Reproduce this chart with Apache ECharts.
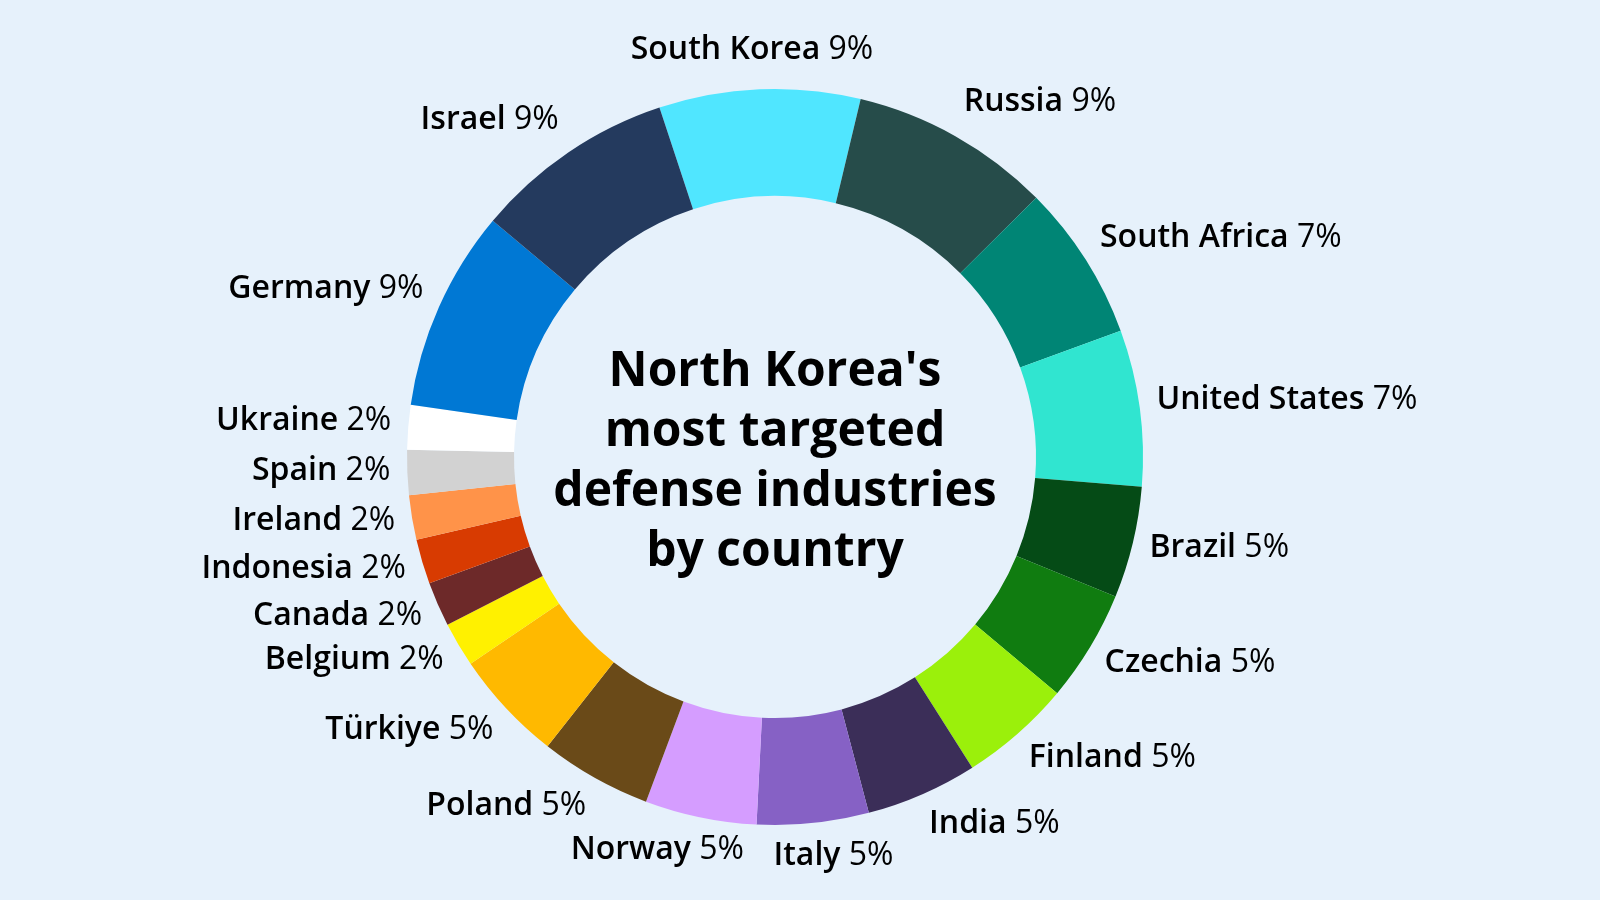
<!DOCTYPE html>
<html>
<head>
<meta charset="utf-8">
<script src="https://cdn.jsdelivr.net/npm/echarts@6/dist/echarts.min.js"></script>
<style>
html,body{margin:0;padding:0;background:#E6F1FB;}
#chart{width:1600px;height:900px;}
</style>
</head>
<body>
<div id="chart"></div>
<script>
// Data (clockwise from top)
const countries = ['South Korea','Russia','South Africa','United States','Brazil','Czechia','Finland','India','Italy','Norway','Poland','Türkiye','Belgium','Canada','Indonesia','Ireland','Spain','Ukraine','Germany','Israel'];
const shares = [9,9,7,7,5,5,5,5,5,5,5,5,2,2,2,2,2,2,9,9];
const colors = ['#50E6FF','#264C4A','#008575','#30E5D0','#054B16','#107C10','#9BF00B','#3B2E58','#8661C5','#D59DFF','#6A4A18','#FFB900','#FFF100','#6D2929','#D83B01','#FF9349','#D2D2D2','#FFFFFF','#0078D4','#243A5E'];
const titleLines = ["North Korea's","most targeted","defense industries","by country"];

const CX = 775, CY = 457, R_IN = 261, R_OUT = 368;
const START = 108.3; // ECharts start angle (deg, 90 = top)
const total = shares.reduce((a,b)=>a+b,0);
let acc = 0;
const midAngles = shares.map(v => { const m = (90 - START) + (acc + v/2)/total*360; acc += v; return m; });

const chart = echarts.init(document.getElementById('chart'));
chart.setOption({
  backgroundColor: '#E6F1FB',
  animation: false,
  graphic: [{
    type: 'text',
    x: CX,
    y: CY + 5,
    style: {
      text: titleLines.join('\n'),
      textAlign: 'center',
      textVerticalAlign: 'middle',
      align: 'center',
      verticalAlign: 'middle',
      font: 'bold 48px "Open Sans"',
      lineHeight: 60,
      fill: '#000'
    }
  }],
  series: [{
    type: 'pie',
    center: [CX, CY],
    radius: [R_IN, R_OUT],
    startAngle: START,
    clockwise: true,
    avoidLabelOverlap: false,
    data: countries.map((c,i)=>({name:c, value:shares[i], itemStyle:{color:colors[i]}})),
    itemStyle: { borderWidth: 0 },
    label: {
      show: true,
      position: 'outside',
      formatter: p => '{n|' + p.name + ' }{v|' + p.value + '%}',
      rich: {
        n: { fontFamily: '"Open Sans"', fontWeight: 600, fontSize: 32, color: '#000' },
        v: { fontFamily: '"Open Sans"', fontWeight: 400, fontSize: 32, color: '#000' }
      }
    },
    labelLine: { show: false },
    labelLayout: function (params) {
      const phi = midAngles[params.dataIndex] * Math.PI / 180;
      const s = Math.sin(phi), c = Math.cos(phi);
      const rr = 385;
      const px = CX + rr * s, py = CY - rr * c;
      const w = params.labelRect.width;
      const f = Math.max(-1, Math.min(1, s * 2.5 + 0.05));
      return {
        x: px + w / 2 * f,
        y: py - 19 * c - 3,
        align: 'center',
        verticalAlign: 'middle'
      };
    }
  }]
});
</script>
</body>
</html>
